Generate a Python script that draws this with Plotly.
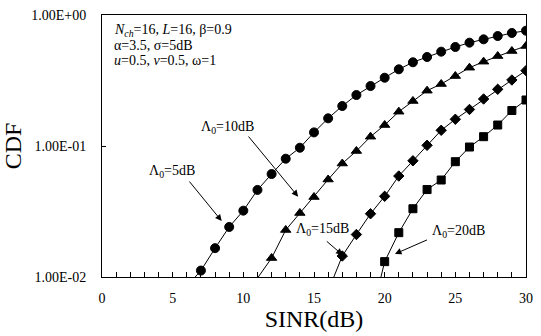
import plotly.graph_objects as go

# ---- data ----
sinr_5 = [6, 7, 8, 9, 10, 11, 12, 13, 14, 15, 16, 17, 18, 19, 20, 21, 22, 23, 24, 25, 26, 27, 28, 29, 30]
cdf_5 = [0.0085, 0.0112, 0.0166, 0.0241, 0.0321, 0.0462, 0.0611, 0.080, 0.097, 0.127, 0.1626, 0.2019, 0.245,
         0.287, 0.332, 0.385, 0.4355, 0.478, 0.525, 0.570, 0.615, 0.652, 0.691, 0.729, 0.759]

sinr_10 = [11, 12, 13, 14, 15, 16, 17, 18, 19, 20, 21, 22, 23, 24, 25, 26, 27, 28, 29, 30]
cdf_10 = [0.0098, 0.01396, 0.02285, 0.0308, 0.0408, 0.0555, 0.0735, 0.0916, 0.1178, 0.1446, 0.1828, 0.2206,
          0.2645, 0.2973, 0.342, 0.396, 0.4403, 0.486, 0.531, 0.580]

sinr_15 = [16, 17, 18, 19, 20, 21, 22, 23, 24, 25, 26, 27, 28, 29, 30]
cdf_15 = [0.0078, 0.01446, 0.0211, 0.0304, 0.0413, 0.059, 0.0771, 0.1012, 0.1318, 0.160, 0.190, 0.2285,
          0.271, 0.319, 0.376]

sinr_20 = [19, 20, 21, 22, 23, 24, 25, 26, 27, 28, 29, 30]
cdf_20 = [0.0047, 0.0131, 0.0218, 0.0332, 0.0465, 0.055, 0.0759, 0.0982, 0.1178, 0.1446, 0.1866, 0.2245]

y_tickvals = [0.01, 0.1, 1]
y_ticktext = ["1.00E-02", "1.00E-01", "1.00E+00"]
x_tickvals = [0, 5, 10, 15, 20, 25, 30]

info_lines = ["<i>N<sub>ch</sub></i>=16, <i>L</i>=16, β=0.9",
              "α=3.5, σ=5dB",
              "<i>u</i>=0.5, <i>v</i>=0.5, ω=1"]

FONT = "Liberation Serif, Times New Roman, serif"

fig = go.Figure()

def add_series(x, y, symbol, size):
    # hide markers for points below the visible range (lines still run to the axis)
    sizes = [size if v >= 0.0101 else 0 for v in y]
    fig.add_trace(go.Scatter(
        x=x, y=y, mode="lines+markers",
        line=dict(color="black", width=1),
        marker=dict(symbol=symbol, size=sizes, color="black", opacity=1,
                    line=dict(width=1, color="black")),
        showlegend=False, cliponaxis=True))

add_series(sinr_5, cdf_5, "circle", 9)
add_series(sinr_10, cdf_10, "triangle-up", 9)
add_series(sinr_15, cdf_15, "diamond", 8)
add_series(sinr_20, cdf_20, "square", 8)

ann_font = dict(family=FONT, size=14, color="black")

labels = [
    ("Λ<sub>0</sub>=5dB", 4.98, -1.191, (6.10, -1.260), (8.47, -1.573)),
    ("Λ<sub>0</sub>=10dB", 8.89, -0.855, (10.28, -0.916), (13.88, -1.387)),
    ("Λ<sub>0</sub>=15dB", 15.57, -1.634, (15.80, -1.718), (17.02, -1.832)),
    ("Λ<sub>0</sub>=20dB", 25.19, -1.649, (23.10, -1.712), (20.73, -1.824)),
]
for text, tx, ty, tail, head in labels:
    fig.add_annotation(x=tx, y=ty, xref="x", yref="y", text=text, showarrow=False,
                       font=ann_font, xanchor="center", yanchor="middle")
    fig.add_annotation(x=head[0], y=head[1], xref="x", yref="y",
                       ax=tail[0], ay=tail[1], axref="x", ayref="y",
                       text="", showarrow=True, arrowhead=2, arrowsize=1.3,
                       arrowwidth=1, arrowcolor="black")

for line, yp in zip(info_lines, [0.939, 0.884, 0.828]):
    fig.add_annotation(x=0.023, y=yp, xref="paper", yref="paper", xanchor="left",
                       yanchor="middle", align="left", showarrow=False,
                       font=dict(family=FONT, size=14, color="black"), text=line)

fig.update_layout(
    width=541, height=336,
    margin=dict(l=102, r=8, t=15, b=59),
    paper_bgcolor="white", plot_bgcolor="white",
    font=dict(family=FONT, color="black"),
    xaxis=dict(
        range=[0, 30], tickvals=x_tickvals, ticks="inside", ticklen=5,
        tickcolor="black", tickfont=dict(family=FONT, size=14, color="black"),
        showline=True, linecolor="black", linewidth=1, mirror=True,
        showgrid=False, zeroline=False, ticklabelstandoff=8,
        minor=dict(dtick=1, ticks="inside", ticklen=5, tickcolor="black", showgrid=False),
        title=dict(text="SINR(dB)", font=dict(family=FONT, size=24, color="black"), standoff=2),
    ),
    yaxis=dict(
        type="log", range=[-2, 0], tickvals=y_tickvals, ticktext=y_ticktext,
        ticks="inside", ticklen=4, tickcolor="black",
        tickfont=dict(family=FONT, size=14, color="black"),
        showline=True, linecolor="black", linewidth=1, mirror=True,
        showgrid=False, zeroline=False, ticklabelstandoff=12,
        title=dict(text="CDF", font=dict(family=FONT, size=24, color="black"), standoff=4),
    ),
)

fig.write_html("out.html", config={"displayModeBar": False},
               post_script="document.body.style.margin='0';document.body.style.overflow='hidden';")
